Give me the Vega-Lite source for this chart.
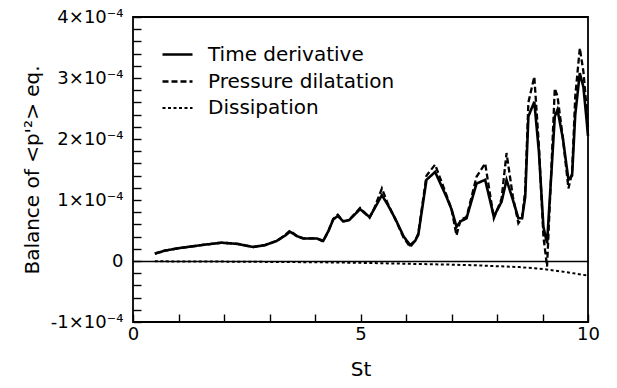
{
  "$schema": "https://vega.github.io/schema/vega-lite/v6.json",
  "width": 455,
  "height": 305,
  "autosize": "none",
  "padding": {"left": 133, "top": 17, "right": 29, "bottom": 66},
  "background": "white",
  "config": {
    "font": "DejaVu Sans",
    "view": {"stroke": "black", "strokeWidth": 1.8},
    "axis": {"domain": false, "grid": false, "ticks": true, "tickOpacity": 1, "labelColor": "black", "titleColor": "black", "tickColor": "black", "tickWidth": 1.4, "labelFontSize": 18, "titleFontSize": 20, "titleFontWeight": "normal", "labelFont": "DejaVu Sans", "titleFont": "DejaVu Sans"}
  },
  "data": {"values": [
      {"St": 0.48, "v": 1.2e-5, "s": "Time derivative"},
      {"St": 0.7, "v": 1.7e-5, "s": "Time derivative"},
      {"St": 1.0, "v": 2.1e-5, "s": "Time derivative"},
      {"St": 1.3, "v": 2.4e-5, "s": "Time derivative"},
      {"St": 1.6, "v": 2.7e-5, "s": "Time derivative"},
      {"St": 1.95, "v": 3.0e-5, "s": "Time derivative"},
      {"St": 2.3, "v": 2.8e-5, "s": "Time derivative"},
      {"St": 2.64, "v": 2.3e-5, "s": "Time derivative"},
      {"St": 2.9, "v": 2.6e-5, "s": "Time derivative"},
      {"St": 3.16, "v": 3.3e-5, "s": "Time derivative"},
      {"St": 3.35, "v": 4.2e-5, "s": "Time derivative"},
      {"St": 3.45, "v": 4.8e-5, "s": "Time derivative"},
      {"St": 3.6, "v": 4.1e-5, "s": "Time derivative"},
      {"St": 3.74, "v": 3.7e-5, "s": "Time derivative"},
      {"St": 4.04, "v": 3.7e-5, "s": "Time derivative"},
      {"St": 4.18, "v": 3.3e-5, "s": "Time derivative"},
      {"St": 4.3, "v": 5.0e-5, "s": "Time derivative"},
      {"St": 4.4, "v": 6.8e-5, "s": "Time derivative"},
      {"St": 4.5, "v": 7.4e-5, "s": "Time derivative"},
      {"St": 4.62, "v": 6.5e-5, "s": "Time derivative"},
      {"St": 4.75, "v": 6.7e-5, "s": "Time derivative"},
      {"St": 4.99, "v": 8.5e-5, "s": "Time derivative"},
      {"St": 5.2, "v": 7.2e-5, "s": "Time derivative"},
      {"St": 5.3, "v": 8.5e-5, "s": "Time derivative"},
      {"St": 5.47, "v": 1.08e-4, "s": "Time derivative"},
      {"St": 5.6, "v": 9.2e-5, "s": "Time derivative"},
      {"St": 5.76, "v": 7.0e-5, "s": "Time derivative"},
      {"St": 5.95, "v": 4.0e-5, "s": "Time derivative"},
      {"St": 6.09, "v": 2.6e-5, "s": "Time derivative"},
      {"St": 6.2, "v": 3.3e-5, "s": "Time derivative"},
      {"St": 6.27, "v": 4.3e-5, "s": "Time derivative"},
      {"St": 6.45, "v": 1.33e-4, "s": "Time derivative"},
      {"St": 6.64, "v": 1.46e-4, "s": "Time derivative"},
      {"St": 6.89, "v": 1.05e-4, "s": "Time derivative"},
      {"St": 7.0, "v": 8.5e-5, "s": "Time derivative"},
      {"St": 7.11, "v": 5.6e-5, "s": "Time derivative"},
      {"St": 7.2, "v": 6.5e-5, "s": "Time derivative"},
      {"St": 7.33, "v": 7.0e-5, "s": "Time derivative"},
      {"St": 7.55, "v": 1.27e-4, "s": "Time derivative"},
      {"St": 7.74, "v": 1.33e-4, "s": "Time derivative"},
      {"St": 7.93, "v": 7.3e-5, "s": "Time derivative"},
      {"St": 8.1, "v": 9.7e-5, "s": "Time derivative"},
      {"St": 8.21, "v": 1.33e-4, "s": "Time derivative"},
      {"St": 8.35, "v": 1.0e-4, "s": "Time derivative"},
      {"St": 8.47, "v": 7.0e-5, "s": "Time derivative"},
      {"St": 8.55, "v": 7.0e-5, "s": "Time derivative"},
      {"St": 8.62, "v": 1.05e-4, "s": "Time derivative"},
      {"St": 8.69, "v": 2.37e-4, "s": "Time derivative"},
      {"St": 8.82, "v": 2.61e-4, "s": "Time derivative"},
      {"St": 8.92, "v": 1.8e-4, "s": "Time derivative"},
      {"St": 9.02, "v": 5.6e-5, "s": "Time derivative"},
      {"St": 9.1, "v": 2.9e-5, "s": "Time derivative"},
      {"St": 9.2, "v": 1.5e-4, "s": "Time derivative"},
      {"St": 9.27, "v": 2.37e-4, "s": "Time derivative"},
      {"St": 9.33, "v": 2.48e-4, "s": "Time derivative"},
      {"St": 9.45, "v": 2.0e-4, "s": "Time derivative"},
      {"St": 9.57, "v": 1.33e-4, "s": "Time derivative"},
      {"St": 9.65, "v": 1.4e-4, "s": "Time derivative"},
      {"St": 9.72, "v": 2.4e-4, "s": "Time derivative"},
      {"St": 9.82, "v": 3.08e-4, "s": "Time derivative"},
      {"St": 9.9, "v": 2.85e-4, "s": "Time derivative"},
      {"St": 9.97, "v": 2.3e-4, "s": "Time derivative"},
      {"St": 10.0, "v": 2.05e-4, "s": "Time derivative"},

      {"St": 0.48, "v": 1.2e-5, "s": "Pressure dilatation"},
      {"St": 0.7, "v": 1.7e-5, "s": "Pressure dilatation"},
      {"St": 1.0, "v": 2.1e-5, "s": "Pressure dilatation"},
      {"St": 1.3, "v": 2.4e-5, "s": "Pressure dilatation"},
      {"St": 1.6, "v": 2.7e-5, "s": "Pressure dilatation"},
      {"St": 1.95, "v": 3.0e-5, "s": "Pressure dilatation"},
      {"St": 2.3, "v": 2.8e-5, "s": "Pressure dilatation"},
      {"St": 2.64, "v": 2.3e-5, "s": "Pressure dilatation"},
      {"St": 2.9, "v": 2.6e-5, "s": "Pressure dilatation"},
      {"St": 3.16, "v": 3.3e-5, "s": "Pressure dilatation"},
      {"St": 3.35, "v": 4.3e-5, "s": "Pressure dilatation"},
      {"St": 3.45, "v": 5.0e-5, "s": "Pressure dilatation"},
      {"St": 3.6, "v": 4.1e-5, "s": "Pressure dilatation"},
      {"St": 3.74, "v": 3.7e-5, "s": "Pressure dilatation"},
      {"St": 4.04, "v": 3.7e-5, "s": "Pressure dilatation"},
      {"St": 4.18, "v": 3.2e-5, "s": "Pressure dilatation"},
      {"St": 4.3, "v": 5.0e-5, "s": "Pressure dilatation"},
      {"St": 4.4, "v": 6.9e-5, "s": "Pressure dilatation"},
      {"St": 4.5, "v": 7.6e-5, "s": "Pressure dilatation"},
      {"St": 4.62, "v": 6.5e-5, "s": "Pressure dilatation"},
      {"St": 4.75, "v": 6.7e-5, "s": "Pressure dilatation"},
      {"St": 4.99, "v": 8.7e-5, "s": "Pressure dilatation"},
      {"St": 5.2, "v": 7.1e-5, "s": "Pressure dilatation"},
      {"St": 5.3, "v": 8.6e-5, "s": "Pressure dilatation"},
      {"St": 5.47, "v": 1.19e-4, "s": "Pressure dilatation"},
      {"St": 5.6, "v": 9.4e-5, "s": "Pressure dilatation"},
      {"St": 5.76, "v": 6.9e-5, "s": "Pressure dilatation"},
      {"St": 5.95, "v": 3.8e-5, "s": "Pressure dilatation"},
      {"St": 6.09, "v": 2.3e-5, "s": "Pressure dilatation"},
      {"St": 6.2, "v": 3.3e-5, "s": "Pressure dilatation"},
      {"St": 6.27, "v": 4.5e-5, "s": "Pressure dilatation"},
      {"St": 6.45, "v": 1.4e-4, "s": "Pressure dilatation"},
      {"St": 6.64, "v": 1.58e-4, "s": "Pressure dilatation"},
      {"St": 6.89, "v": 1.08e-4, "s": "Pressure dilatation"},
      {"St": 7.0, "v": 8.5e-5, "s": "Pressure dilatation"},
      {"St": 7.11, "v": 4.2e-5, "s": "Pressure dilatation"},
      {"St": 7.2, "v": 6.8e-5, "s": "Pressure dilatation"},
      {"St": 7.33, "v": 7.2e-5, "s": "Pressure dilatation"},
      {"St": 7.55, "v": 1.38e-4, "s": "Pressure dilatation"},
      {"St": 7.74, "v": 1.6e-4, "s": "Pressure dilatation"},
      {"St": 7.93, "v": 7.0e-5, "s": "Pressure dilatation"},
      {"St": 8.1, "v": 1.02e-4, "s": "Pressure dilatation"},
      {"St": 8.21, "v": 1.77e-4, "s": "Pressure dilatation"},
      {"St": 8.35, "v": 1.05e-4, "s": "Pressure dilatation"},
      {"St": 8.47, "v": 6.2e-5, "s": "Pressure dilatation"},
      {"St": 8.55, "v": 7.0e-5, "s": "Pressure dilatation"},
      {"St": 8.62, "v": 1.15e-4, "s": "Pressure dilatation"},
      {"St": 8.69, "v": 2.6e-4, "s": "Pressure dilatation"},
      {"St": 8.82, "v": 3.02e-4, "s": "Pressure dilatation"},
      {"St": 8.92, "v": 1.9e-4, "s": "Pressure dilatation"},
      {"St": 9.02, "v": 4.0e-5, "s": "Pressure dilatation"},
      {"St": 9.1, "v": -9.0e-6, "s": "Pressure dilatation"},
      {"St": 9.2, "v": 1.6e-4, "s": "Pressure dilatation"},
      {"St": 9.27, "v": 2.83e-4, "s": "Pressure dilatation"},
      {"St": 9.33, "v": 2.7e-4, "s": "Pressure dilatation"},
      {"St": 9.45, "v": 2.0e-4, "s": "Pressure dilatation"},
      {"St": 9.57, "v": 1.19e-4, "s": "Pressure dilatation"},
      {"St": 9.65, "v": 1.45e-4, "s": "Pressure dilatation"},
      {"St": 9.72, "v": 2.7e-4, "s": "Pressure dilatation"},
      {"St": 9.82, "v": 3.49e-4, "s": "Pressure dilatation"},
      {"St": 9.9, "v": 3.1e-4, "s": "Pressure dilatation"},
      {"St": 9.97, "v": 2.5e-4, "s": "Pressure dilatation"},
      {"St": 10.0, "v": 2.2e-4, "s": "Pressure dilatation"},

      {"St": 0.48, "v": -5.0e-7, "s": "Dissipation"},
      {"St": 1.0, "v": -7.0e-7, "s": "Dissipation"},
      {"St": 2.0, "v": -1.0e-6, "s": "Dissipation"},
      {"St": 3.0, "v": -1.5e-6, "s": "Dissipation"},
      {"St": 4.0, "v": -2.0e-6, "s": "Dissipation"},
      {"St": 5.0, "v": -3.0e-6, "s": "Dissipation"},
      {"St": 6.0, "v": -4.5e-6, "s": "Dissipation"},
      {"St": 7.0, "v": -6.0e-6, "s": "Dissipation"},
      {"St": 7.5, "v": -7.0e-6, "s": "Dissipation"},
      {"St": 8.0, "v": -8.5e-6, "s": "Dissipation"},
      {"St": 8.5, "v": -1.0e-5, "s": "Dissipation"},
      {"St": 9.0, "v": -1.3e-5, "s": "Dissipation"},
      {"St": 9.5, "v": -1.8e-5, "s": "Dissipation"},
      {"St": 10.0, "v": -2.4e-5, "s": "Dissipation"}
  ]},
  "mark": {"type": "line", "color": "black"},
  "encoding": {
    "x": {
      "field": "St", "type": "quantitative",
      "scale": {"domain": [0, 10], "nice": false, "zero": false},
      "axis": {
        "orient": "bottom", "title": "St",
        "values": [0, 1, 2, 3, 4, 5, 6, 7, 8, 9, 10],
        "labelExpr": "datum.value % 5 == 0 ? datum.label : ''",
        "tickSize": -8,
        "labelPadding": 11,
        "labelFlush": false,
        "zindex": 1,
        "titleX": 227.5, "titleY": 53, "titleBaseline": "alphabetic"
      }
    },
    "y": {
      "field": "v", "type": "quantitative",
      "scale": {"domain": [-0.0001, 0.0004], "nice": false, "zero": false},
      "axis": {
        "orient": "left", "title": "Balance of <p'²> eq.",
        "values": [-0.0001, -0.00008, -0.00006, -0.00004, -0.00002, 0, 0.00002, 0.00004, 0.00006, 0.00008, 0.0001, 0.00012, 0.00014, 0.00016, 0.00018, 0.0002, 0.00022, 0.00024, 0.00026, 0.00028, 0.0003, 0.00032, 0.00034, 0.00036, 0.00038, 0.0004],
        "labelExpr": "abs(datum.value*10000 - round(datum.value*10000)) < 0.001 ? (round(datum.value*10000) == 0 ? '0' : round(datum.value*10000) + '×10⁻⁴') : ''",
        "tickSize": -8,
        "labelPadding": 18,
        "labelFlush": false,
        "zindex": 1,
        "grid": true,
        "gridColor": "black",
        "gridWidth": 1.4,
        "gridOpacity": {"condition": {"test": "abs(datum.value) < 0.0000001", "value": 1}, "value": 0},
        "titleX": -95, "titleY": 152.5, "titleAngle": 270, "titleBaseline": "alphabetic", "titleAlign": "center"
      }
    },
    "strokeDash": {
      "field": "s", "type": "nominal",
      "scale": {"domain": ["Time derivative", "Pressure dilatation", "Dissipation"], "range": [[1, 0], [6, 3], [3, 2.5]]},
      "legend": {
        "orient": "none", "legendX": 28, "legendY": 21, "title": null,
        "labelFontSize": 20, "labelFont": "DejaVu Sans", "labelColor": "black", "labelLimit": 0,
        "symbolType": "stroke", "symbolSize": 900, "symbolStrokeWidth": 2, "symbolStrokeColor": "black",
        "labelOffset": 14, "padding": 0, "rowPadding": 0
      }
    },
    "strokeWidth": {
      "field": "s", "type": "nominal",
      "scale": {"domain": ["Time derivative", "Pressure dilatation", "Dissipation"], "range": [2.6, 2, 2]},
      "legend": null
    }
  }
}
